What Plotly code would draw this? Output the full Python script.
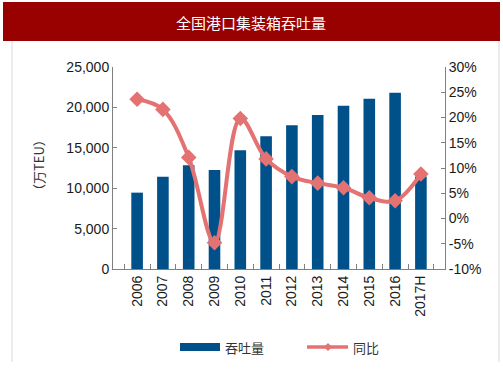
import plotly.graph_objects as go

years = ["2006", "2007", "2008", "2009", "2010", "2011", "2012", "2013", "2014", "2015", "2016", "2017H"]
throughput = [9450, 11420, 12830, 12250, 14690, 16420, 17780, 19060, 20210, 21080, 21820, 11460]
yoy = [23.6, 21.6, 12.1, -4.8, 19.8, 11.8, 8.3, 7.0, 6.1, 4.1, 3.5, 8.8]

left_ticks = [0, 5000, 10000, 15000, 20000, 25000]
left_labels = ["0", "5,000", "10,000", "15,000", "20,000", "25,000"]
right_ticks = [-10, -5, 0, 5, 10, 15, 20, 25, 30]
right_labels = ["-10%", "-5%", "0%", "5%", "10%", "15%", "20%", "25%", "30%"]
series_names = ["吞吐量", "同比"]

BAR = "#00518A"
LINE = "#E47272"
NUM_FONT = "Liberation Sans, Arial, sans-serif"
CJK_FONT = "Noto Sans CJK SC, sans-serif"

W, H = 503, 379
L, R, T, B = 113, 445, 67, 269
pw, ph = R - L, B - T

def px(x):
    return (x - L) / pw

def py(y):
    return (B - y) / ph

fig = go.Figure()
fig.add_trace(go.Bar(x=years, y=throughput, name=series_names[0], marker=dict(color=BAR, line=dict(width=0)),
                     yaxis="y", showlegend=False))
fig.add_trace(go.Scatter(x=years, y=yoy, name=series_names[1], mode="lines+markers", yaxis="y2", showlegend=False,
                         line=dict(color=LINE, width=4, shape="spline", smoothing=1),
                         marker=dict(symbol="diamond", size=12, color=LINE)))

shapes = [
    dict(type="rect", xref="paper", yref="paper", x0=px(3), x1=px(500), y0=py(41), y1=py(2),
         fillcolor="#990000", line=dict(width=0), layer="below"),
    dict(type="line", xref="paper", yref="paper", x0=px(12), x1=px(12), y0=py(41), y1=py(362),
         line=dict(color="#D9D9D9", width=1)),
    dict(type="line", xref="paper", yref="paper", x0=px(499), x1=px(499), y0=py(41), y1=py(362),
         line=dict(color="#D9D9D9", width=1)),
    # legend swatches
    dict(type="rect", xref="paper", yref="paper", x0=px(180), x1=px(220), y0=py(351), y1=py(343),
         fillcolor=BAR, line=dict(width=0)),
    dict(type="line", xref="paper", yref="paper", x0=px(307), x1=px(348), y0=py(347), y1=py(347),
         line=dict(color=LINE, width=3.5)),
    dict(type="path", xref="paper", yref="paper",
         path="M {a},{m} L {b},{t} L {c},{m} L {b},{u} Z".format(
             a=px(324), b=px(328), c=px(332), m=py(347), t=py(343), u=py(351)),
         fillcolor=LINE, line=dict(width=0)),
]

annotations = [
    dict(text="全国港口集装箱吞吐量", xref="paper", yref="paper", x=px(251), y=py(22), showarrow=False,
         font=dict(family=CJK_FONT, size=15, color="white"), xanchor="center", yanchor="middle"),
    dict(text="（万TEU）", xref="paper", yref="paper", x=px(38), y=py(165), showarrow=False, textangle=-90,
         font=dict(family=CJK_FONT, size=13, color="#333333"), xanchor="center", yanchor="middle"),
    dict(text=series_names[0], xref="paper", yref="paper", x=px(223), y=py(347), showarrow=False,
         font=dict(family=CJK_FONT, size=13, color="#333333"), xanchor="left", yanchor="middle"),
    dict(text=series_names[1], xref="paper", yref="paper", x=px(351), y=py(347), showarrow=False,
         font=dict(family=CJK_FONT, size=13, color="#333333"), xanchor="left", yanchor="middle"),
]

fig.update_layout(
    width=W, height=H,
    margin=dict(l=L, r=W - R, t=T, b=H - B),
    paper_bgcolor="white", plot_bgcolor="white",
    bargap=0.55,
    showlegend=False,
    xaxis=dict(type="category", tickangle=-90, showline=True, linecolor="#808080", linewidth=1,
               ticks="inside", tickson="boundaries", ticklen=5, tickcolor="#808080",
               tickfont=dict(family=NUM_FONT, size=14, color="#1a1a1a"), showgrid=False),
    yaxis=dict(range=[0, 25000], tickvals=left_ticks, ticktext=left_labels, showline=True,
               linecolor="#808080", linewidth=1, ticks="inside", ticklen=4, tickcolor="#808080",
               tickfont=dict(family=NUM_FONT, size=14, color="#1a1a1a"), showgrid=False, zeroline=False),
    yaxis2=dict(range=[-10, 30], tickvals=right_ticks, ticktext=right_labels, overlaying="y", side="right",
                showline=True, linecolor="#808080", linewidth=1, ticks="inside", ticklen=4, tickcolor="#808080",
                tickfont=dict(family=NUM_FONT, size=14, color="#1a1a1a"), showgrid=False, zeroline=False),
    shapes=shapes,
    annotations=annotations,
)

fig.write_html("out.html", config={"displayModeBar": False},
               post_script="document.body.style.margin='0';document.body.style.overflow='hidden';")
